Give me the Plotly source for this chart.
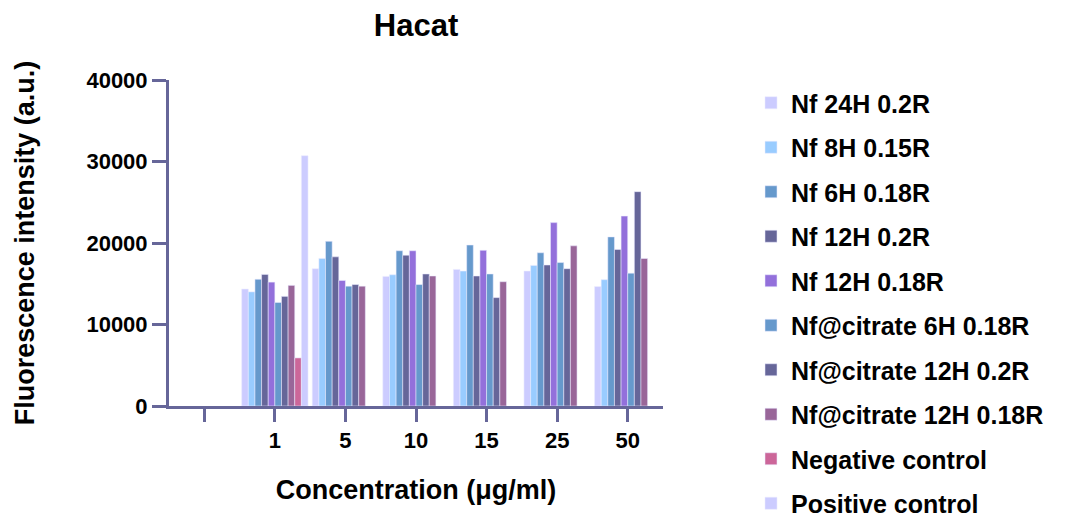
import plotly.graph_objects as go

categories = ["0", "1", "5", "10", "15", "25", "50"]
tick_labels = ["", "1", "5", "10", "15", "25", "50"]

series_names = [
    "Nf 24H 0.2R", "Nf 8H 0.15R", "Nf 6H 0.18R", "Nf 12H 0.2R", "Nf 12H 0.18R",
    "Nf@citrate 6H 0.18R", "Nf@citrate 12H 0.2R", "Nf@citrate 12H 0.18R",
    "Negative control", "Positive control",
]

nf_24h_02 = [None, 14350, 16850, 15900, 16750, 16550, 14650]
nf_8h_015 = [None, 14000, 18100, 16100, 16550, 17250, 15500]
nf_6h_018 = [None, 15550, 20200, 19050, 19750, 18800, 20750]
nf_12h_02 = [None, 16150, 18300, 18500, 15950, 17300, 19200]
nf_12h_018 = [None, 15200, 15400, 19050, 19100, 22500, 23300]
cit_6h_018 = [None, 12700, 14700, 14900, 16200, 17600, 16300]
cit_12h_02 = [None, 13450, 14900, 16200, 13300, 16850, 26300]
cit_12h_018 = [None, 14800, 14700, 15950, 15250, 19650, 18100]
negative_ctrl = [None, 5900, None, None, None, None, None]
positive_ctrl = [None, 30700, None, None, None, None, None]

series_values = [nf_24h_02, nf_8h_015, nf_6h_018, nf_12h_02, nf_12h_018,
                 cit_6h_018, cit_12h_02, cit_12h_018, negative_ctrl, positive_ctrl]

colors = ["#CCCCFF", "#99CCFF", "#6699CC", "#666699", "#9370DB",
          "#6699CC", "#666699", "#996699", "#CC6699", "#CCCCFF"]

axis_color = "#666699"
font_family = "Liberation Sans, Arial, sans-serif"

fig = go.Figure()
for i, (name, vals, col) in enumerate(zip(series_names, series_values, colors)):
    fig.add_trace(go.Bar(
        x=categories, y=vals, name=f"<b>{name}</b>", legendgroup=f"g{i}",
        marker=dict(color=col, line=dict(color="rgba(235,235,255,0.9)", width=0.6)),
    ))

fig.update_layout(
    width=1070, height=527,
    margin=dict(l=169, r=407, t=80, b=121),
    paper_bgcolor="white", plot_bgcolor="white",
    barmode="group", bargap=0.06, bargroupgap=0,
    font=dict(family=font_family, color="black"),
    title=dict(text="<b>Hacat</b>", x=(169 + 663) / 2 / 1070, xanchor="center",
               y=0.953, yanchor="middle", font=dict(size=31, color="black")),
    legend=dict(x=(751 - 169) / 494, xanchor="left", y=1.0, yanchor="top",
                font=dict(size=25, color="black"), tracegroupgap=9,
                bgcolor="rgba(0,0,0,0)", itemwidth=30, maxheight=470),
    showlegend=True,
)

fig.update_xaxes(
    type="category", categoryorder="array", categoryarray=categories,
    tickmode="array", tickvals=categories, ticktext=[f"<b>{t}</b>" if t else "" for t in tick_labels],
    showline=True, linecolor=axis_color, linewidth=3,
    ticks="outside", ticklen=13, tickwidth=3, tickcolor=axis_color,
    tickfont=dict(size=22, color="black"), showgrid=False, zeroline=False,
    automargin=False,
    title=dict(text="<b>Concentration (μg/ml)</b>", font=dict(size=27, color="black"), standoff=28),
)
fig.update_yaxes(
    range=[0, 40000], tickmode="array", tickvals=[0, 10000, 20000, 30000, 40000],
    ticktext=["<b>0</b>", "<b>10000</b>", "<b>20000</b>", "<b>30000</b>", "<b>40000</b>"],
    showline=True, linecolor=axis_color, linewidth=3,
    ticks="outside", ticklen=14, tickwidth=3, tickcolor=axis_color,
    tickfont=dict(size=22, color="black"), showgrid=False, zeroline=False,
    automargin=False,
    title=dict(text="<b>Fluorescence intensity (a.u.)</b>", font=dict(size=27, color="black"), standoff=44),
)

fig.write_html("out.html", config={"displayModeBar": False},
               post_script="document.body.style.margin='0';")
